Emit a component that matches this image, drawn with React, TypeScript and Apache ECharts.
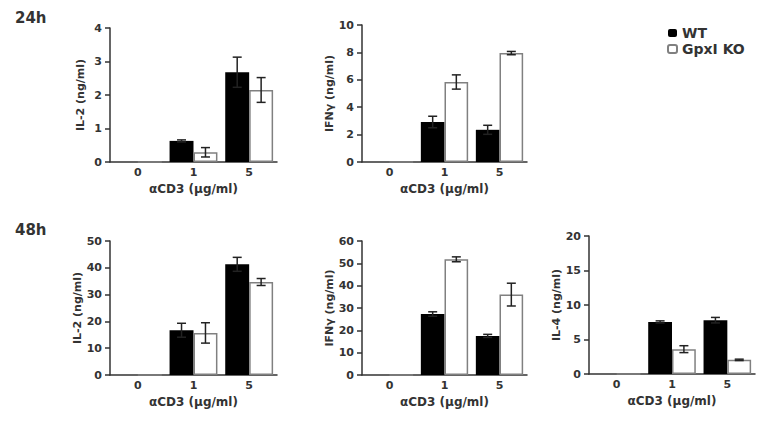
import React, { useEffect, useRef } from "react";
import * as echarts from "echarts";

// ---- data ----
const doseLabels = ["0", "1", "5"];
const seriesNames = ["WT", "GpxI KO"];
const panelTitles = ["24h", "48h"];
const yNames = ["IL-2 (ng/ml)", "IFNγ (ng/ml)", "IL-2 (ng/ml)", "IFNγ (ng/ml)", "IL-4 (ng/ml)"];
const xName = "αCD3 (μg/ml)";
const yMax = [4, 10, 50, 60, 20];
const yInterval = [1, 2, 10, 10, 5];

const il2_24_wt = [0, 0.63, 2.68];
const il2_24_wt_sd = [0, 0.03, 0.45];
const il2_24_ko = [0, 0.29, 2.15];
const il2_24_ko_sd = [0, 0.14, 0.37];

const ifn_24_wt = [0, 2.92, 2.35];
const ifn_24_wt_sd = [0, 0.42, 0.33];
const ifn_24_ko = [0, 5.84, 7.95];
const ifn_24_ko_sd = [0, 0.52, 0.12];

const il2_48_wt = [0, 16.7, 41.3];
const il2_48_wt_sd = [0, 2.6, 2.6];
const il2_48_ko = [0, 15.7, 34.7];
const il2_48_ko_sd = [0, 3.8, 1.3];

const ifn_48_wt = [0, 27.3, 17.5];
const ifn_48_wt_sd = [0, 1.0, 0.7];
const ifn_48_ko = [0, 51.8, 36.0];
const ifn_48_ko_sd = [0, 1.1, 5.1];

const il4_48_wt = [0, 7.55, 7.8];
const il4_48_wt_sd = [0, 0.15, 0.4];
const il4_48_ko = [0, 3.6, 2.05];
const il4_48_ko_sd = [0, 0.5, 0.1];

const panelData = [
  [il2_24_wt, il2_24_wt_sd, il2_24_ko, il2_24_ko_sd],
  [ifn_24_wt, ifn_24_wt_sd, ifn_24_ko, ifn_24_ko_sd],
  [il2_48_wt, il2_48_wt_sd, il2_48_ko, il2_48_ko_sd],
  [ifn_48_wt, ifn_48_wt_sd, ifn_48_ko, ifn_48_ko_sd],
  [il4_48_wt, il4_48_wt_sd, il4_48_ko, il4_48_ko_sd],
];

// ---- layout ----
const grids = [
  { left: 110, top: 28, width: 167, height: 134 },
  { left: 362, top: 25, width: 165, height: 137 },
  { left: 110, top: 241, width: 167, height: 134 },
  { left: 362, top: 241, width: 165, height: 134 },
  { left: 589, top: 236, width: 166, height: 138 },
];

const GAP = 0.14;
const FONT = "DejaVu Sans";
const TXT = "#333";

function errorSeries(idx: number, means: number[], sds: number[], sign: number) {
  return {
    type: "custom",
    xAxisIndex: idx,
    yAxisIndex: idx,
    z: 5,
    silent: true,
    encode: { x: 0, y: 1 },
    data: means.map((m, i) => [i, m, sds[i]]),
    renderItem: (params: any, api: any) => {
      const c = api.value(0);
      const m = api.value(1);
      const s = api.value(2);
      if (!s) return null;
      const band = api.size([1, 0])[0];
      const bw = (band * (1 - GAP)) / 2;
      const x = api.coord([c, m])[0] + (sign * bw) / 2;
      const yHi = api.coord([c, m + s])[1];
      const yLo = api.coord([c, m - s])[1];
      const cw = 4.5;
      const st = { stroke: "#222", lineWidth: 1.5 };
      return {
        type: "group",
        children: [
          { type: "line", shape: { x1: x, y1: yHi, x2: x, y2: yLo }, style: st },
          { type: "line", shape: { x1: x - cw, y1: yHi, x2: x + cw, y2: yHi }, style: st },
          { type: "line", shape: { x1: x - cw, y1: yLo, x2: x + cw, y2: yLo }, style: st },
        ],
      };
    },
  };
}

export default function App() {
  const ref = useRef<HTMLDivElement>(null);
  useEffect(() => {
    if (!ref.current) return;
    const chart = echarts.init(ref.current, null, { renderer: "svg" });
    const series: any[] = [];
    panelData.forEach((p, i) => {
      series.push({
        type: "bar",
        name: seriesNames[0],
        xAxisIndex: i,
        yAxisIndex: i,
        data: p[0],
        barGap: "0%",
        barCategoryGap: GAP * 100 + "%",
        itemStyle: { color: "#000", borderColor: "#000", borderWidth: 0 },
      });
      series.push({
        type: "bar",
        name: seriesNames[1],
        xAxisIndex: i,
        yAxisIndex: i,
        data: p[2],
        barGap: "0%",
        barCategoryGap: GAP * 100 + "%",
        itemStyle: { color: "#fff", borderColor: "#808080", borderWidth: 1.5 },
      });
      series.push(errorSeries(i, p[0], p[1], -1));
      series.push(errorSeries(i, p[2], p[3], 1));
    });

    const option: any = {
      animation: false,
      backgroundColor: "#fff",
      textStyle: { fontFamily: FONT },
      grid: grids.map((g) => ({ ...g, containLabel: false, outerBoundsMode: "none" })),
      xAxis: grids.map((g, i) => ({
        type: "category",
        gridIndex: i,
        data: doseLabels,
        name: xName,
        nameLocation: "middle",
        nameGap: 21,
        nameTextStyle: { fontFamily: FONT, fontSize: 12, fontWeight: "bold", color: TXT },
        axisLine: { lineStyle: { color: "#333", width: 1.5 } },
        axisTick: { show: false },
        axisLabel: { margin: 5, fontFamily: FONT, fontSize: 11, fontWeight: "bold", color: TXT },
        splitLine: { show: false },
      })),
      yAxis: grids.map((g, i) => ({
        type: "value",
        gridIndex: i,
        min: 0,
        max: yMax[i],
        interval: yInterval[i],
        name: yNames[i],
        nameLocation: "middle",
        nameGap: 24,
        nameTextStyle: { fontFamily: FONT, fontSize: 11, fontWeight: "bold", color: TXT },
        axisLine: { show: true, lineStyle: { color: "#333", width: 1.5 } },
        axisTick: { show: true, length: 5, lineStyle: { color: "#333", width: 1.5 } },
        axisLabel: { margin: 8, fontFamily: FONT, fontSize: 11, fontWeight: "bold", color: TXT },
        splitLine: { show: false },
      })),
      legend: {
        orient: "vertical",
        left: 662,
        top: 21,
        itemWidth: 9,
        itemHeight: 8,
        itemGap: 2,
        data: seriesNames,
        textStyle: { fontFamily: FONT, fontSize: 14, fontWeight: "bold", color: TXT },
      },
      graphic: [
        { type: "text", left: 15, top: 10, style: { text: panelTitles[0], font: "bold 15px DejaVu Sans", fill: TXT } },
        { type: "text", left: 15, top: 222, style: { text: panelTitles[1], font: "bold 15px DejaVu Sans", fill: TXT } },
      ],
      series,
    };
    chart.setOption(option);
    return () => chart.dispose();
  }, []);
  return (
    <div
      ref={ref}
      style={{ position: "fixed", left: 0, top: 0, width: 762, height: 445 }}
    />
  );
}
